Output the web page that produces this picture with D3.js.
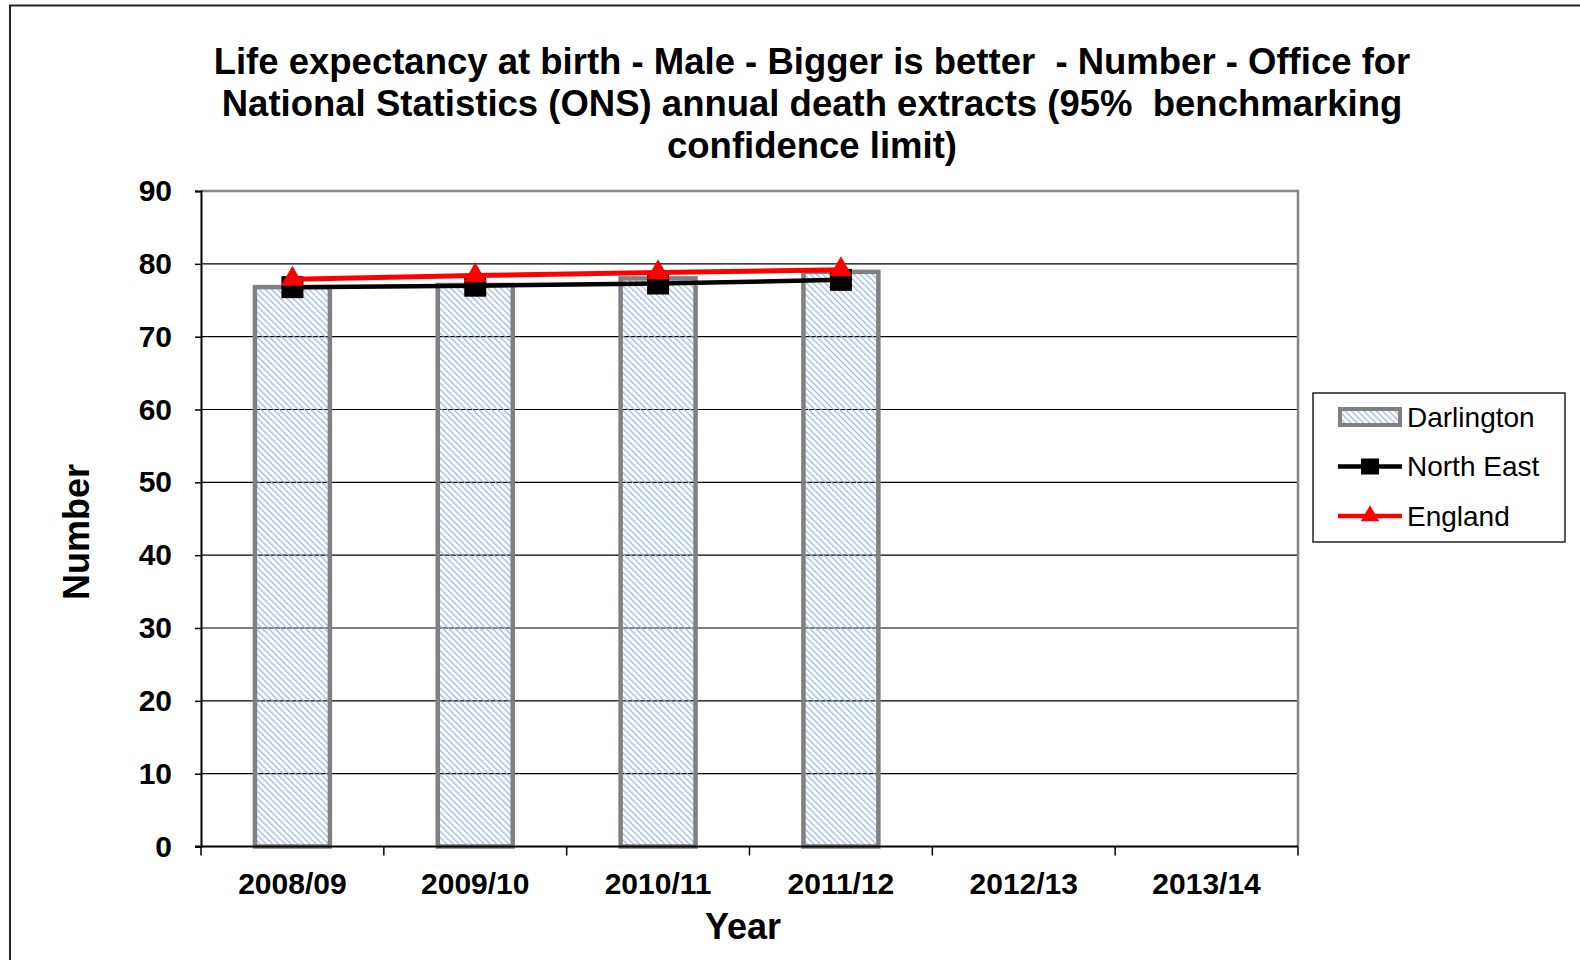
<!DOCTYPE html>
<html>
<head>
<meta charset="utf-8">
<script src="https://cdn.jsdelivr.net/npm/d3@7"></script>
<style>
  body { margin: 0; background: #fff; }
  text { font-family: "Liberation Sans", Arial, sans-serif; fill: #000; white-space: pre; }
</style>
</head>
<body>
<svg id="chart"></svg>
<script>
// values
const categories = ['2008/09', '2009/10', '2010/11', '2011/12', '2012/13', '2013/14']
const darlington = [76.8, 77.1, 78.0, 78.9, null, null]
const northEast = [76.8, 77.0, 77.3, 77.8, null, null]
const england = [77.9, 78.4, 78.8, 79.2, null, null]
const yTicks = [0, 10, 20, 30, 40, 50, 60, 70, 80, 90]
const titleLines = [
  'Life expectancy at birth - Male - Bigger is better  - Number - Office for',
  'National Statistics (ONS) annual death extracts (95%  benchmarking',
  'confidence limit)'
]
const legendItems = ['Darlington', 'North East', 'England']

const W = 1580, H = 960
const plot = { left: 201, right: 1298, top: 191, bottom: 846.5 }

const svg = d3.select('#chart').attr('width', W).attr('height', H)
svg.append('rect').attr('width', W).attr('height', H).attr('fill', '#fff')

// hatch for the bars
const defs = svg.append('defs')
defs.append('pattern')
  .attr('id', 'hatch')
  .attr('patternUnits', 'userSpaceOnUse')
  .attr('width', 4.4).attr('height', 4.4)
  .attr('patternTransform', 'rotate(-45)')
  .append('rect')
  .attr('width', 1.2).attr('height', 4.4)
  .attr('fill', '#92b3e8')

// outer frame (only left + top visible)
svg.append('path')
  .attr('d', `M10,${H} V5.5 H${W}`)
  .attr('fill', 'none').attr('stroke', '#222').attr('stroke-width', 2)

// title
svg.append('g').selectAll('text').data(titleLines).join('text')
  .attr('x', 812)
  .attr('y', (d, i) => 74 + i * 42)
  .attr('text-anchor', 'middle')
  .attr('font-size', 36.5).attr('font-weight', 'bold')
  .attr('xml:space', 'preserve')
  .text(d => d)

const x = d3.scaleBand().domain(categories).range([plot.left, plot.right])
const y = d3.scaleLinear().domain([0, 90]).range([plot.bottom, plot.top])

// gridlines
svg.append('g').selectAll('line').data(yTicks.filter(t => t > 0 && t < 90)).join('line')
  .attr('x1', plot.left).attr('x2', plot.right)
  .attr('y1', d => y(d)).attr('y2', d => y(d))
  .attr('stroke', '#000').attr('stroke-width', 1.2)

// plot border top + right
svg.append('path')
  .attr('d', `M${plot.left},${y(90)} H${plot.right} V${plot.bottom}`)
  .attr('fill', 'none').attr('stroke', '#868686').attr('stroke-width', 2.5)

// bars
const barW = x.bandwidth() * 0.41
svg.append('g').selectAll('rect')
  .data(categories.map((c, i) => ({ c, v: darlington[i] })).filter(d => d.v != null))
  .join('rect')
  .attr('x', d => x(d.c) + (x.bandwidth() - barW) / 2)
  .attr('y', d => y(d.v))
  .attr('width', barW)
  .attr('height', d => y(0) - y(d.v))
  .attr('fill', 'url(#hatch)')
  .attr('stroke', '#808080').attr('stroke-width', 4.5)

// y axis
const yAxis = svg.append('g')
  .attr('transform', `translate(${plot.left},0)`)
  .call(d3.axisLeft(y).tickValues(yTicks).tickSize(6).tickPadding(23))
yAxis.select('.domain').attr('stroke', '#000').attr('stroke-width', 2)
yAxis.selectAll('.tick line').attr('stroke', '#000').attr('stroke-width', 1.5)
yAxis.selectAll('.tick text')
  .attr('font-size', 30).attr('font-weight', 'bold')
  .attr('font-family', '"Liberation Sans", Arial, sans-serif').attr('fill', '#000')

// x axis
const xg = svg.append('g').attr('transform', `translate(0,${plot.bottom})`)
xg.append('line').attr('x1', plot.left - 6).attr('x2', plot.right)
  .attr('stroke', '#000').attr('stroke-width', 2)
xg.selectAll('.xtick').data(d3.range(categories.length + 1)).join('line')
  .attr('class', 'xtick')
  .attr('x1', i => plot.left + i * x.step()).attr('x2', i => plot.left + i * x.step())
  .attr('y1', 0).attr('y2', 9)
  .attr('stroke', '#000').attr('stroke-width', 1.5)
xg.selectAll('text').data(categories).join('text')
  .attr('x', d => x(d) + x.bandwidth() / 2)
  .attr('y', 47)
  .attr('text-anchor', 'middle')
  .attr('font-size', 30).attr('font-weight', 'bold')
  .text(d => d)

// axis titles
svg.append('text')
  .attr('x', 743).attr('y', 939)
  .attr('text-anchor', 'middle')
  .attr('font-size', 36).attr('font-weight', 'bold')
  .text('Year')
svg.append('text')
  .attr('transform', 'translate(89,532) rotate(-90)')
  .attr('text-anchor', 'middle')
  .attr('font-size', 36).attr('font-weight', 'bold')
  .text('Number')

// lines
const cx = i => x(categories[i]) + x.bandwidth() / 2
const line = d3.line().defined(d => d != null).x((d, i) => cx(i)).y(d => y(d))

svg.append('path').datum(northEast)
  .attr('d', line).attr('fill', 'none')
  .attr('stroke', '#000').attr('stroke-width', 4.5)
svg.append('g').selectAll('rect')
  .data(northEast.map((v, i) => ({ v, i })).filter(d => d.v != null))
  .join('rect')
  .attr('x', d => cx(d.i) - 11).attr('y', d => y(d.v) - 11)
  .attr('width', 22).attr('height', 22)
  .attr('fill', '#000')

const tri = d3.symbol().type(d3.symbolTriangle).size(230)
svg.append('path').datum(england)
  .attr('d', line).attr('fill', 'none')
  .attr('stroke', '#ff0000').attr('stroke-width', 5)
svg.append('g').selectAll('path')
  .data(england.map((v, i) => ({ v, i })).filter(d => d.v != null))
  .join('path')
  .attr('d', tri)
  .attr('transform', d => `translate(${cx(d.i)},${y(d.v)})`)
  .attr('fill', '#ff0000')

// legend
const lg = svg.append('g')
lg.append('rect')
  .attr('x', 1313).attr('y', 393).attr('width', 252).attr('height', 149)
  .attr('fill', '#fff').attr('stroke', '#222').attr('stroke-width', 1.5)

const rowY = d3.scalePoint().domain(legendItems).range([417, 516])
lg.append('rect')
  .attr('x', 1340).attr('y', rowY('Darlington') - 8)
  .attr('width', 60).attr('height', 16)
  .attr('fill', 'url(#hatch)').attr('stroke', '#808080').attr('stroke-width', 4)

lg.append('line')
  .attr('x1', 1338).attr('x2', 1402)
  .attr('y1', rowY('North East')).attr('y2', rowY('North East'))
  .attr('stroke', '#000').attr('stroke-width', 4.5)
lg.append('rect')
  .attr('x', 1370 - 9).attr('y', rowY('North East') - 8)
  .attr('width', 18).attr('height', 16).attr('fill', '#000')

lg.append('line')
  .attr('x1', 1338).attr('x2', 1402)
  .attr('y1', rowY('England')).attr('y2', rowY('England'))
  .attr('stroke', '#ff0000').attr('stroke-width', 4.5)
lg.append('path')
  .attr('d', d3.symbol().type(d3.symbolTriangle).size(150))
  .attr('transform', `translate(1370,${rowY('England')})`)
  .attr('fill', '#ff0000')

lg.selectAll('.ltext').data(legendItems).join('text')
  .attr('class', 'ltext')
  .attr('x', 1407).attr('y', d => rowY(d))
  .attr('dominant-baseline', 'central')
  .attr('font-size', 28)
  .text(d => d)
</script>
</body>
</html>
